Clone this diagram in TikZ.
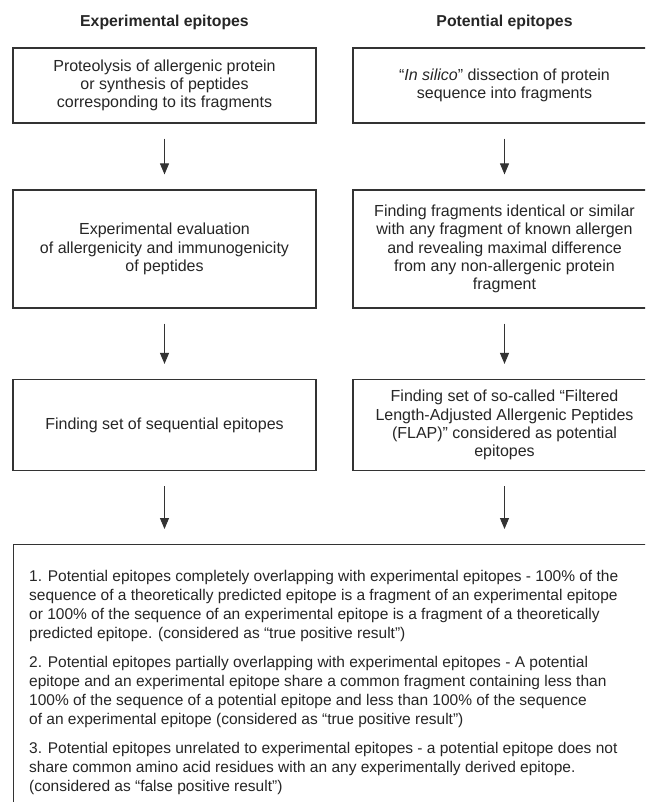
\documentclass[tikz,border=0pt]{standalone}
\usepackage{fontspec}
\setmainfont{Liberation Sans}
\usetikzlibrary{arrows.meta}
\definecolor{ink}{HTML}{262626}
\definecolor{edge}{HTML}{333333}
\begin{document}
\begin{tikzpicture}[x=1pt,y=-1pt,
  every node/.style={text=ink},
  hdr/.style={font=\fontsize{15.8}{18}\selectfont\bfseries},
  stepbox/.style={draw=edge, line width=1.2pt, minimum width=303pt, align=center,
    font=\fontsize{16}{18.2}\selectfont, inner sep=0pt},
  arr/.style={draw=edge, line width=1pt, -{Triangle[width=9pt,length=11pt]},
    shorten <=15pt, shorten >=15pt}
]
\clip (0,0) rectangle (645,802);
\fill[white] (0,0) rectangle (645,802);

\node[hdr] (h1) at (164.5,22) {Experimental epitopes};
\node[hdr] (h2) at (504.5,22) {Potential epitopes};

\node[stepbox, minimum height=75pt] (l1) at (164.5,85.5) {Proteolysis of allergenic protein\\or synthesis of peptides\\corresponding to its fragments};
\node[stepbox, minimum height=75pt] (r1) at (504.5,85.5) {“\textit{In silico}” dissection of protein\\sequence into fragments};

\node[stepbox, minimum height=118pt] (l2) at (164.5,249) {Experimental evaluation\\of allergenicity and immunogenicity\\of peptides};
\node[stepbox, minimum height=118pt] (r2) at (504.5,249) {Finding fragments identical or similar\\with any fragment of known allergen\\and revealing maximal difference\\from any non-allergenic protein\\fragment};

\node[stepbox, minimum height=91pt] (l3) at (164.5,425) {Finding set of sequential epitopes};
\node[stepbox, minimum height=91pt] (r3) at (504.5,425) {Finding set of so-called “Filtered\\Length-Adjusted Allergenic Peptides\\(FLAP)” considered as potential\\epitopes};

\node[draw=edge, line width=1.2pt, anchor=north west, minimum width=660pt, minimum height=300pt, inner sep=0pt] (res) at (13,544) {};
\node[anchor=north west, align=left, inner sep=0pt, font=\fontsize{15.5}{19}\selectfont] (restext) at (29,570)
{1. Potential epitopes completely overlapping with experimental epitopes - 100\% of the\\
sequence of a theoretically predicted epitope is a fragment of an experimental epitope\\
or 100\% of the sequence of an experimental epitope is a fragment of a theoretically\\
predicted epitope. (considered as “true positive result”)\\[10pt]
2. Potential epitopes partially overlapping with experimental epitopes - A potential\\
epitope and an experimental epitope share a common fragment containing less than\\
100\% of the sequence of a potential epitope and less than 100\% of the sequence\\
of an experimental epitope (considered as “true positive result”)\\[10pt]
3. Potential epitopes unrelated to experimental epitopes - a potential epitope does not\\
share common amino acid residues with an any experimentally derived epitope.\\
(considered as “false positive result”)};

\draw[arr] (l1) -- (l2);
\draw[arr] (r1) -- (r2);
\draw[arr] (l2) -- (l3);
\draw[arr] (r2) -- (r3);
\draw[arr] (l3.south) -- (l3.south |- res.north);
\draw[arr] (r3.south) -- (r3.south |- res.north);
\end{tikzpicture}
\end{document}
